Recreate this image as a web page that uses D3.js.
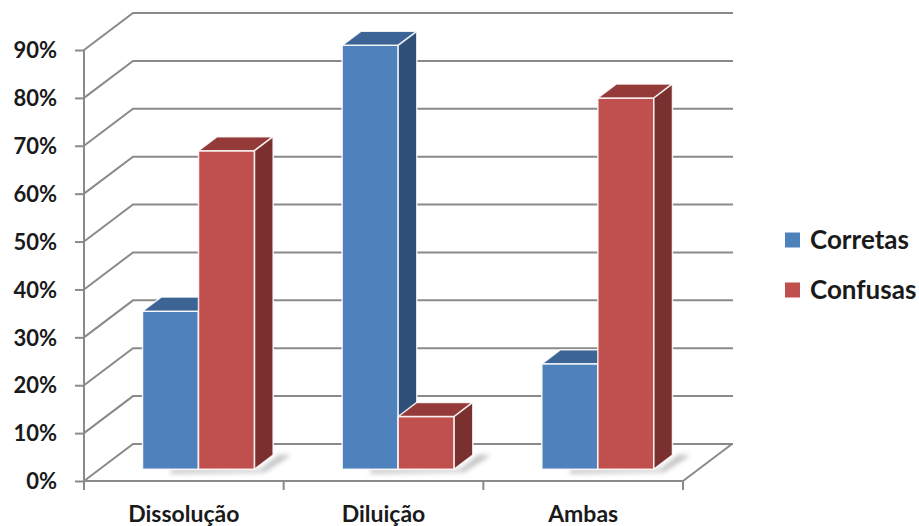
<!DOCTYPE html>
<html>
<head>
<meta charset="utf-8">
<script src="https://cdn.jsdelivr.net/npm/d3@7"></script>
<style>
  body { margin: 0; background: #fff; }
  svg text { font-family: Lato, "Open Sans", sans-serif; font-weight: bold; fill: #1a1a1a; }
</style>
</head>
<body>
<div id="chart"></div>
<script>
const categories = ["Dissolução", "Diluição", "Ambas"];
const seriesNames = ["Corretas", "Confusas"];
const corretas = [0.33, 0.885, 0.22];
const confusas = [0.665, 0.11, 0.775];
const yTicks = [0, 0.1, 0.2, 0.3, 0.4, 0.5, 0.6, 0.7, 0.8, 0.9];

const W = 919, H = 526;
const colors = {
  Corretas: {front: "#4f81bd", top: "#3c6596", side: "#2f5079"},
  Confusas: {front: "#c0504d", top: "#943a38", side: "#7a302e"}
};

// oblique depth of the floor
const DX = 49, DY = -37;
const f0 = 0.32, f1 = 0.70; // bar front/back as fraction of floor depth
const barW = 56;

const svg = d3.select("#chart").append("svg")
  .attr("width", W).attr("height", H);

const x = d3.scaleBand().domain(categories).range([84, 683]).padding(0);
const y = d3.scaleLinear().domain([0, 0.9]).range([481, 50]);

const defs = svg.append("defs");
defs.append("filter").attr("id", "blur")
  .attr("x", "-20%").attr("y", "-50%").attr("width", "140%").attr("height", "200%")
  .append("feGaussianBlur").attr("stdDeviation", 2.5);

const gridColor = "#8a8a8a";

// back wall + left diagonals
const grid = svg.append("g");
yTicks.forEach(t => {
  grid.append("path")
    .attr("d", d3.line()([[84, y(t)], [84 + DX, y(t) + DY], [733, y(t) + DY]]))
    .attr("fill", "none").attr("stroke", gridColor).attr("stroke-width", 2);
});
// floor right edge
grid.append("path")
  .attr("d", d3.line()([[683, y(0)], [683 + DX, y(0) + DY]]))
  .attr("fill", "none").attr("stroke", gridColor).attr("stroke-width", 2);

// y axis
const yAxis = svg.append("g")
  .attr("transform", "translate(84,0)")
  .call(d3.axisLeft(y).tickValues(yTicks).tickFormat(d3.format(".0%")).tickSize(9).tickPadding(18));
yAxis.select(".domain").attr("stroke", gridColor).attr("stroke-width", 2)
  .attr("d", `M0,${y(0) + 8}V${y(0.9)}`);
yAxis.selectAll(".tick line").attr("stroke", gridColor).attr("stroke-width", 2);
yAxis.selectAll(".tick text").style("font-size", "22px").attr("dy", "0.35em");

// x axis
const xAxis = svg.append("g")
  .attr("transform", `translate(0,${y(0)})`)
  .call(d3.axisBottom(x).tickSize(0).tickPadding(25));
xAxis.select(".domain").attr("stroke", gridColor).attr("stroke-width", 2)
  .attr("d", `M84,0H683`);
xAxis.selectAll(".tick text").style("font-size", "23px");
const bounds = categories.map(c => x(c)).concat([x(categories[categories.length - 1]) + x.bandwidth()]);
xAxis.selectAll(".bound").data(bounds).enter().append("line")
  .attr("x1", d => d).attr("x2", d => d).attr("y1", 0).attr("y2", 9)
  .attr("stroke", gridColor).attr("stroke-width", 2);

// bars
const rows = categories.map((c, i) => ({cat: c, vals: [corretas[i], confusas[i]]}));
const P = (px, v, f) => [px + f * DX, y(v) + f * DY];

const barsG = svg.append("g");
rows.forEach(r => {
  const cx = x(r.cat) + x.bandwidth() / 2 - 1;
  const left = cx - barW;
  const right = cx + barW;
  // shadow on floor
  const sh = [P(left + 28, 0, f0), P(right + 6, 0, f0), P(right + 6, 0, f1), P(right + 18, 0, f1),
              P(right + 14, 0, f0 - 0.08), P(left + 34, 0, f0 - 0.12)];
  barsG.append("path").attr("d", d3.line()(sh) + "Z")
    .attr("fill", "#000").attr("opacity", 0.25).attr("filter", "url(#blur)");

  r.vals.forEach((v, k) => {
    const c = colors[seriesNames[k]];
    const x0 = left + k * barW, x1 = x0 + barW;
    const g = barsG.append("g").attr("stroke", "rgba(255,255,255,0.85)").attr("stroke-width", 1.5)
      .attr("stroke-linejoin", "round");
    // front
    g.append("path").attr("fill", c.front)
      .attr("d", d3.line()([P(x0, 0, f0), P(x1, 0, f0), P(x1, v, f0), P(x0, v, f0)]) + "Z");
    // top
    g.append("path").attr("fill", c.top)
      .attr("d", d3.line()([P(x0, v, f0), P(x1, v, f0), P(x1, v, f1), P(x0, v, f1)]) + "Z");
    // side
    g.append("path").attr("fill", c.side)
      .attr("d", d3.line()([P(x1, 0, f0), P(x1, 0, f1), P(x1, v, f1), P(x1, v, f0)]) + "Z");
  });
});

// legend
const legend = svg.append("g");
seriesNames.forEach((s, i) => {
  const ly = 240 + i * 50;
  legend.append("rect").attr("x", 785).attr("y", ly - 7.5).attr("width", 15).attr("height", 15)
    .attr("fill", colors[s].front);
  legend.append("text").attr("x", 810).attr("y", ly).attr("dy", "0.35em")
    .style("font-size", "26px").text(s);
});
</script>
</body>
</html>
